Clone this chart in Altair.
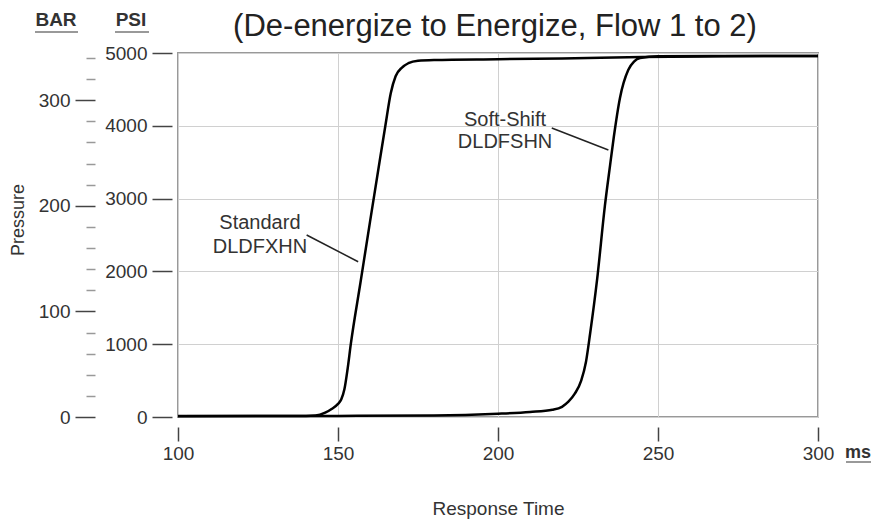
import altair as alt
import pandas as pd

FONT = "Liberation Sans"

title_text = "(De-energize to Energize, Flow 1 to 2)"
x_ticks = [100, 150, 200, 250, 300]
psi_ticks = [0, 1000, 2000, 3000, 4000, 5000]
bar_major = [0, 100, 200, 300]
bar_minor = [20, 40, 60, 80, 120, 140, 160, 180, 220, 240, 260, 280, 320, 340]
PSI_PER_BAR = 14.5038

# Standard DLDFXHN
std_ms = [100, 120, 140, 143, 146, 148, 150, 151, 152, 153, 154, 157, 160, 163, 164.8, 166.5,
          168, 170, 172, 175, 180, 200, 220, 245, 270, 300]
std_psi = [15, 15, 15, 20, 60, 110, 180, 240, 380, 660, 1000, 1840, 2680, 3510, 4000, 4450,
           4680, 4800, 4860, 4895, 4905, 4915, 4925, 4945, 4955, 4960]

# Soft-Shift DLDFSHN
soft_ms = [100, 150, 180, 200, 210, 217, 220, 222, 224, 226, 227.5, 228.8, 231, 233.4, 235,
           236.2, 238.1, 240.7, 242.5, 244.4, 250, 300]
soft_psi = [12, 15, 20, 45, 70, 100, 140, 210, 320, 500, 760, 1150, 1900, 2900, 3450,
            3850, 4380, 4766, 4880, 4930, 4955, 4960]

ann_lines = ["Standard", "DLDFXHN", "Soft-Shift", "DLDFSHN"]
ann_ms = [125.6, 125.6, 202.2, 202.2]
ann_psi = [2665, 2335, 4080, 3777]

ptr_ms = [140.2, 216.8]
ptr_psi = [2500, 3970]
ptr_ms2 = [156.3, 234.5]
ptr_psi2 = [2133, 3668]

W, H = 640, 364

xs = alt.Scale(domain=[100, 300], nice=False, zero=False)
ys = alt.Scale(domain=[0, 5000], nice=False)

curves = pd.DataFrame({
    "ms": std_ms + soft_ms,
    "psi": std_psi + soft_psi,
    "series": ["Standard"] * len(std_ms) + ["Soft-Shift"] * len(soft_ms),
})

x_axis = alt.Axis(values=x_ticks, format="d", title="Response Time", offset=10, tickSize=14,
                  tickColor="#444", tickWidth=1.5, labelFontSize=19, labelColor="#333",
                  labelPadding=3, labelFont=FONT, domain=False, grid=True,
                  gridColor="#d0d0d0", gridWidth=1, titleFont=FONT, titleFontSize=19,
                  titleFontWeight="normal", titleColor="#333", titlePadding=36,
                  labelFlush=False)

y_axis = alt.Axis(values=psi_ticks, format="d", title=None, offset=6, tickSize=20,
                  tickColor="#444", tickWidth=1.5, labelFontSize=19, labelColor="#333",
                  labelPadding=5, labelFont=FONT, domain=False, grid=True,
                  gridColor="#d0d0d0", gridWidth=1, labelFlush=False)

lines = alt.Chart(curves).mark_line(color="black", strokeWidth=2.5, interpolate="monotone").encode(
    x=alt.X("ms:Q", scale=xs, axis=x_axis),
    y=alt.Y("psi:Q", scale=ys, axis=y_axis),
    detail="series:N",
)

ann = pd.DataFrame({"text": ann_lines, "ms": ann_ms, "psi": ann_psi})
ann_text = alt.Chart(ann).mark_text(font=FONT, fontSize=20, color="#333",
                                    baseline="middle", align="center").encode(
    x=alt.X("ms:Q", scale=xs), y=alt.Y("psi:Q", scale=ys), text="text:N")

ptr = pd.DataFrame({"ms": ptr_ms, "psi": ptr_psi, "ms2": ptr_ms2, "psi2": ptr_psi2})
ptr_rules = alt.Chart(ptr).mark_rule(color="#222", strokeWidth=1.5).encode(
    x=alt.X("ms:Q", scale=xs), y=alt.Y("psi:Q", scale=ys), x2="ms2:Q", y2="psi2:Q")

one = pd.DataFrame({"k": [0]})


def label(txt, x, y, size, weight="normal", angle=0, baseline="middle", color="#333"):
    return alt.Chart(one).mark_text(text=txt, font=FONT, fontSize=size, fontWeight=weight,
                                    color=color, align="center", baseline=baseline,
                                    angle=angle).encode(x=alt.value(x), y=alt.value(y))


def underline(x1, x2, y):
    return alt.Chart(one).mark_rule(color="#999", strokeWidth=2).encode(
        x=alt.value(x1), x2=alt.value(x2), y=alt.value(y))


decor = [
    label(title_text, 317, -17, 31, baseline="alphabetic", color="#222"),
    label("BAR", -122, -33, 19, weight="bold"),
    underline(-143, -100, -21),
    label("PSI", -47, -33, 19, weight="bold"),
    underline(-63, -29, -21),
    label("ms", 680, 400, 18, weight="bold"),
    underline(668, 693, 409),
    label("Pressure", -159, 167, 18, angle=270),
]

main = alt.layer(lines, ann_text, ptr_rules, *decor)

bar_domain = [0, 5000 / PSI_PER_BAR]

major_axis = alt.Axis(values=bar_major, orient="left", offset=83, title=None, domain=False,
                      grid=False, tickSize=20, tickColor="#444", tickWidth=1.5,
                      labelFontSize=19, labelFont=FONT, labelColor="#333", labelPadding=5,
                      labelFlush=False)
minor_axis = alt.Axis(values=bar_minor, orient="left", offset=83, title=None, domain=False,
                      grid=False, tickSize=9, tickColor="#999", tickWidth=1.5,
                      labels=False)

bar_major_layer = alt.Chart(pd.DataFrame({"bar": bar_major})).mark_point(opacity=0).encode(
    y=alt.Y("bar:Q", scale=alt.Scale(domain=bar_domain, nice=False), axis=major_axis))
bar_minor_layer = alt.Chart(pd.DataFrame({"bar": bar_minor})).mark_point(opacity=0).encode(
    y=alt.Y("bar:Q", scale=alt.Scale(domain=bar_domain, nice=False), axis=minor_axis))

chart = alt.layer(main, bar_major_layer, bar_minor_layer).resolve_scale(y="independent").properties(
    width=W, height=H,
    padding={"left": 170, "top": 45, "right": 56, "bottom": 108},
    autosize=alt.AutoSizeParams(type="none"),
).configure(font=FONT).configure_view(stroke="#999", strokeWidth=2)

chart.save("out.html", embed_options={"renderer": "svg", "actions": False})
